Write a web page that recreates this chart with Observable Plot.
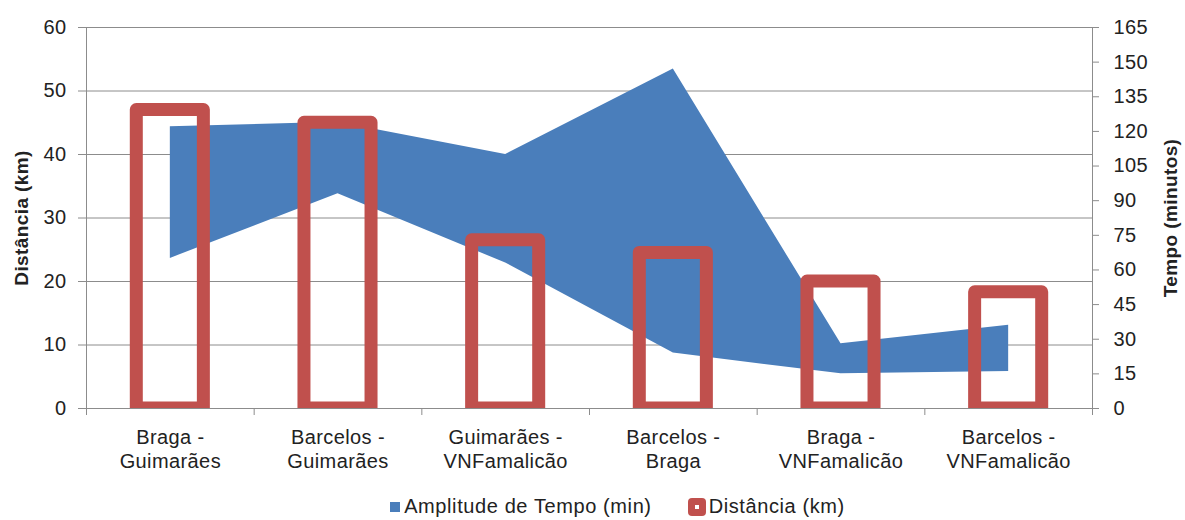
<!DOCTYPE html>
<html><head><meta charset="utf-8">
<script src="https://cdn.jsdelivr.net/npm/d3@7"></script>
<script src="https://cdn.jsdelivr.net/npm/@observablehq/plot@0.6"></script>
<style>
body{margin:0;background:#fff;font-family:"Liberation Sans",Arial,sans-serif;}
#legend{display:flex;align-items:center;justify-content:center;height:35px;padding-top:4px;padding-left:50px;font-size:20px;letter-spacing:0.6px;color:#222;}
.sw-blue{width:10px;height:10px;background:#4a7ebb;margin-right:4px;}
.sw-red{width:18px;height:18px;background:#c0504d;border-radius:4px;margin-right:3px;margin-left:36px;display:flex;align-items:center;justify-content:center;}
.sw-red span{width:4px;height:4px;background:#fff;display:block;}
svg text{letter-spacing:0.4px;}
</style></head><body>
<div id="chart"></div>
<div id="legend"><div class="sw-blue"></div><span>Amplitude de Tempo (min)</span><div class="sw-red"><span></span></div><span>Distância (km)</span></div>
<script>
const categories = ["Braga -\nGuimarães", "Barcelos -\nGuimarães", "Guimarães -\nVNFamalicão", "Barcelos -\nBraga", "Braga -\nVNFamalicão", "Barcelos -\nVNFamalicão"];
const distancia = [47, 45, 26.5, 24.5, 20, 18.3];
const tempoMin = [65, 93, 63, 24, 15, 16];
const tempoMax = [122, 124, 110, 147, 28, 36];
const leftTicks = [0, 10, 20, 30, 40, 50, 60];
const rightTicks = [0, 15, 30, 45, 60, 75, 90, 105, 120, 135, 150, 165];

const K = 60 / 165;
const data = categories.map((c, i) => ({c, i, dist: distancia[i], lo: tempoMin[i] * K, hi: tempoMax[i] * K}));
const grey = "#8c8c8c";
const chart = Plot.plot({
  width: 1185, height: 485, marginLeft: 86, marginRight: 93, marginTop: 27, marginBottom: 77,
  x: {type: "linear", domain: [0, 6]},
  y: {domain: [0, 60]},
  style: {fontFamily: "Liberation Sans, Arial, sans-serif", fontSize: "20px", color: "#222", background: "#fff"},
  marks: [
    Plot.ruleY(leftTicks, {stroke: grey, strokeWidth: 1}),
    Plot.ruleX([0], {stroke: grey}),
    Plot.ruleX([6], {stroke: grey}),
    Plot.areaY(data, {x: d => d.i + 0.5, y1: "lo", y2: "hi", fill: "#4a7ebb"}),
    Plot.rectY(data, {x1: d => d.i + 0.3, x2: d => d.i + 0.7, y1: d => 0, y2: "dist", fill: "none", stroke: "#c0504d", strokeWidth: 13, strokeLinejoin: "round", clip: true}),
    Plot.axisY(leftTicks, {anchor: "left", tickSize: 8, tickPadding: 12, label: null, stroke: grey}),
    Plot.axisY(rightTicks.map(m => m * K), {anchor: "right", tickSize: 6, tickPadding: 15, tickFormat: d => Math.round(d / K), label: null, stroke: grey}),
    Plot.axisX(d3.range(7), {anchor: "bottom", tickSize: 7, tickFormat: () => "", label: null, stroke: grey}),
    Plot.text(data, {x: d => d.i + 0.5, frameAnchor: "bottom", text: "c", lineAnchor: "top", dy: 19, lineHeight: 1.18}),
    Plot.text(["Distância (km)"], {frameAnchor: "left", textAnchor: "middle", dx: -65, rotate: -90, fontWeight: "bold", fontSize: 19}),
    Plot.text(["Tempo (minutos)"], {frameAnchor: "right", textAnchor: "middle", dx: 78, rotate: -90, fontWeight: "bold", fontSize: 19})
  ]
});
document.getElementById("chart").appendChild(chart);
</script></body></html>
